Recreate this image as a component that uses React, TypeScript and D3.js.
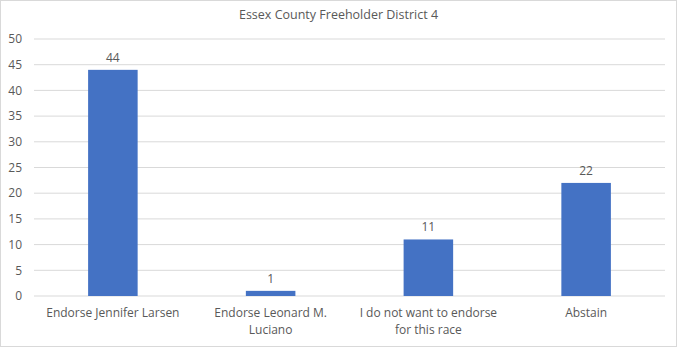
import React from "react";
import * as d3 from "d3";

const categories: string[][] = [
  ["Endorse Jennifer Larsen"],
  ["Endorse Leonard M.", "Luciano"],
  ["I do not want to endorse", "for this race"],
  ["Abstain"],
];
const values: number[] = [44, 1, 11, 22];
const yTicks: number[] = [0, 5, 10, 15, 20, 25, 30, 35, 40, 45, 50];
const title = "Essex County Freeholder District 4";

const W = 677;
const H = 347;
const FONT = "'Open Sans', 'Noto Sans', sans-serif";
const TXT = "#595959";

export default function App() {
  const x = d3
    .scaleBand<number>()
    .domain(values.map((_, i) => i))
    .range([34, 665])
    .paddingInner(0.686)
    .paddingOuter(0.343);
  const y = d3.scaleLinear().domain([0, 50]).range([296, 39]);

  return (
    <svg
      width={W}
      height={H}
      style={{ position: "absolute", left: 0, top: 0, fontFamily: FONT }}
    >
      <rect x={0.5} y={0.5} width={W - 1} height={H - 1} fill="#fff" stroke="#d9d9d9" />
      <text x={W / 2} y={19} textAnchor="middle" fontSize={12.5} fill={TXT}>
        {title}
      </text>
      {yTicks.map((t) => (
        <g key={t}>
          <line x1={34} x2={665} y1={y(t)} y2={y(t)} stroke="#d9d9d9" strokeWidth={1} />
          <text x={22} y={y(t)} dy="0.35em" textAnchor="end" fontSize={12} fill={TXT}>
            {t}
          </text>
        </g>
      ))}
      {values.map((v, i) => (
        <g key={i}>
          <rect
            x={x(i)!}
            y={y(v)}
            width={x.bandwidth()}
            height={y(0) - y(v)}
            fill="#4472c4"
          />
          <text
            x={x(i)! + x.bandwidth() / 2}
            y={y(v) - 8}
            textAnchor="middle"
            fontSize={12}
            fill={TXT}
          >
            {v}
          </text>
        </g>
      ))}
      {categories.map((lines, i) => (
        <text
          key={i}
          x={x(i)! + x.bandwidth() / 2}
          y={317}
          textAnchor="middle"
          fontSize={12}
          fill={TXT}
        >
          {lines.map((l, j) => (
            <tspan key={j} x={x(i)! + x.bandwidth() / 2} dy={j === 0 ? 0 : 17}>
              {l}
            </tspan>
          ))}
        </text>
      ))}
    </svg>
  );
}
